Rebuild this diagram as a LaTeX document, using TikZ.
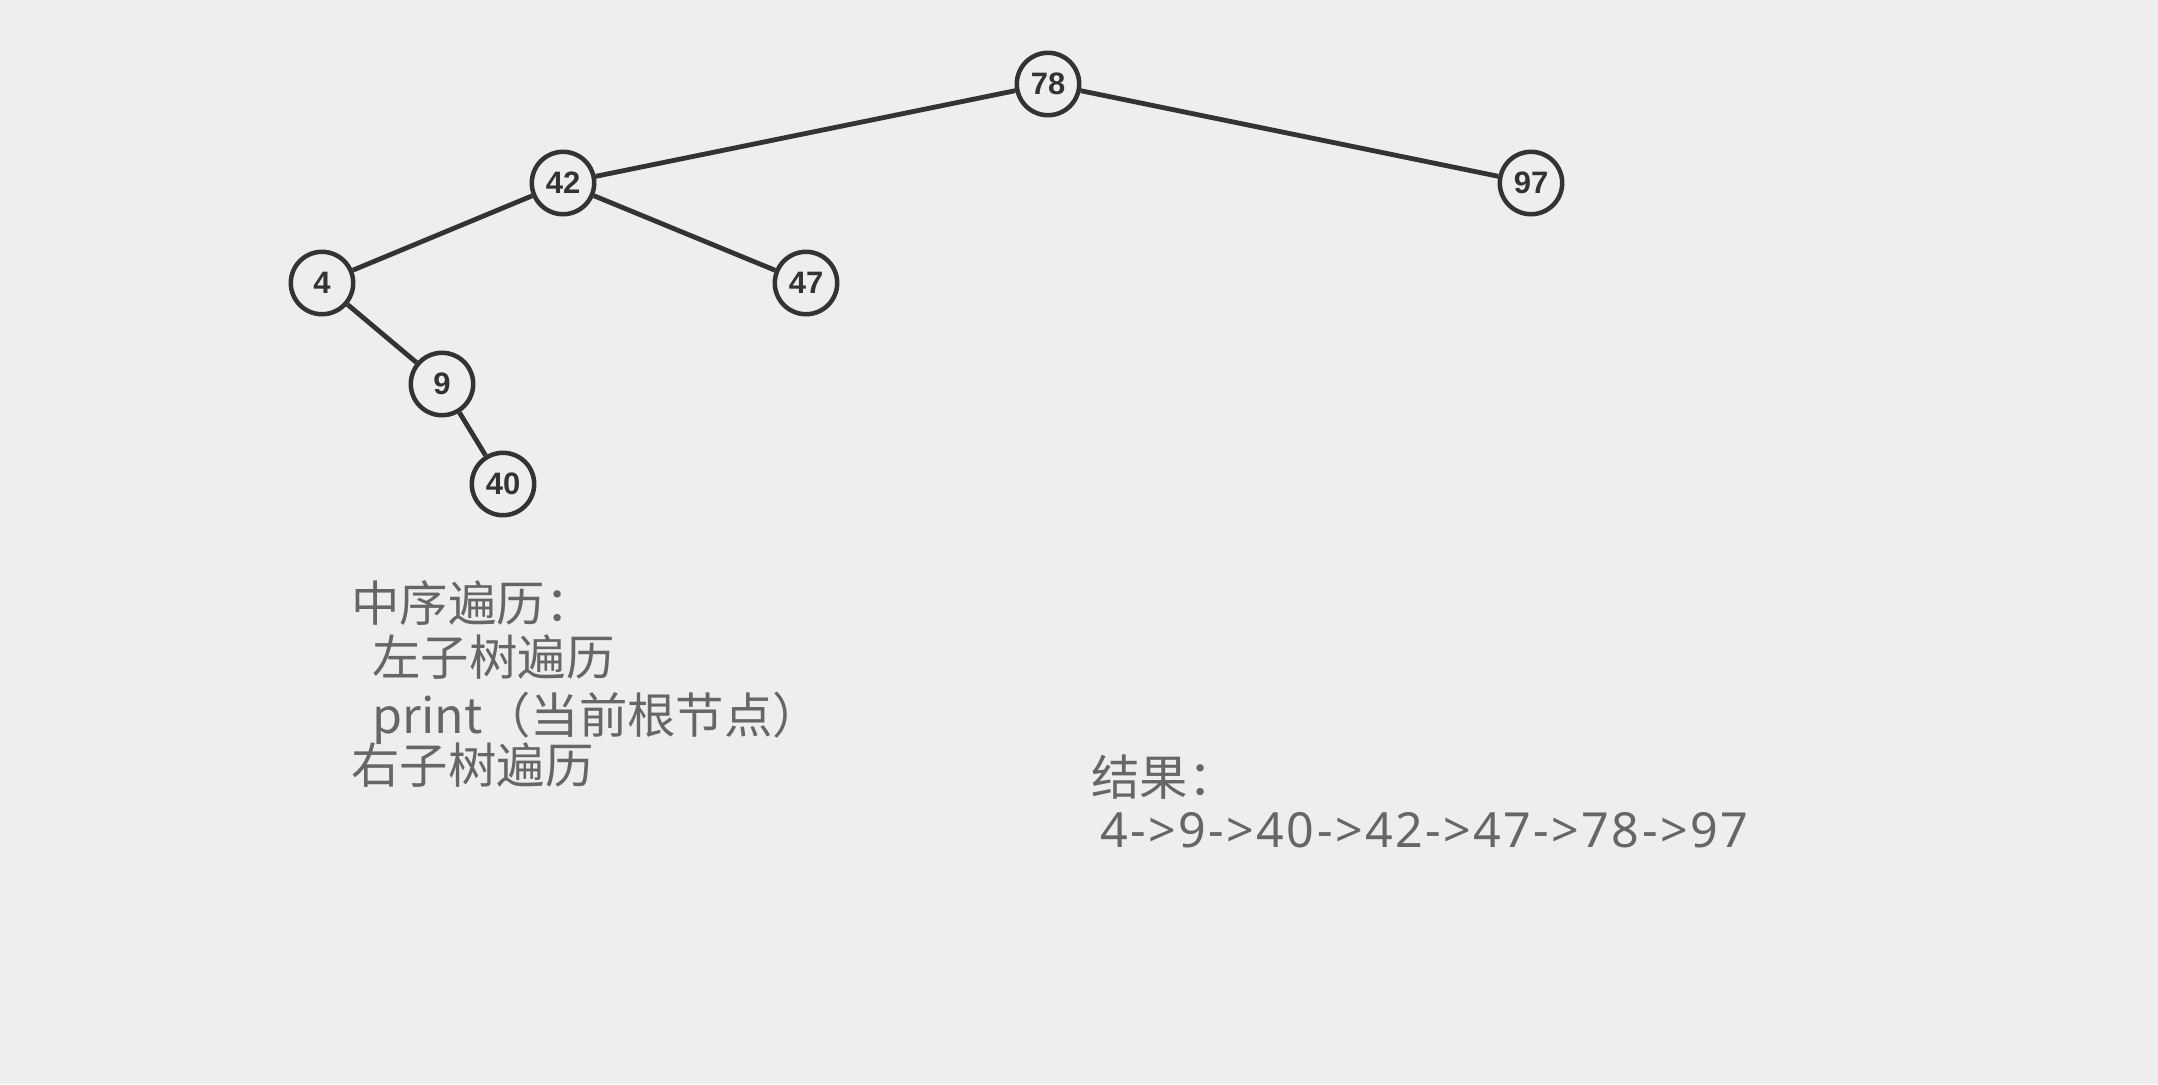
\documentclass[tikz,border=0pt]{standalone}
\usepackage{fontspec}
\setmainfont{Noto Sans CJK SC}
\newfontfamily\keyfont{Liberation Sans}
\newfontfamily\seqfont[LetterSpace=5]{Noto Sans}
\usetikzlibrary{positioning}
\definecolor{bgcol}{HTML}{EEEEEE}
\definecolor{inkcol}{HTML}{333333}
\definecolor{notecol}{HTML}{666666}
\tikzset{
  treenode/.style = {circle, draw=inkcol, line width=2.25pt, fill=bgcol, minimum size=31.2pt, inner sep=0pt, text=inkcol, font=\keyfont\bfseries\fontsize{15.5}{15.5}\selectfont},
  treeedge/.style = {inkcol, line width=2.4pt},
  note/.style = {anchor=base west, inner sep=0pt, text=notecol, font=\fontsize{24.2}{27}\selectfont},
}

\begin{document}
\begin{tikzpicture}[x=0.5pt,y=-0.5pt]
      \fill[bgcol] (0,0) rectangle (2158,1084);
      \useasboundingbox (0,0) rectangle (2158,1084);

      % the tree
      \node[treenode] (n78) at (1048,84) {78};
      \node[treenode] (n42) at (563,183) {42};
      \node[treenode] (n97) at (1531,183) {97};
      \node[treenode] (n4) at (322,283) {4};
      \node[treenode] (n47) at (806,283) {47};
      \node[treenode] (n9) at (442,384) {9};
      \node[treenode] (n40) at (503,484) {40};

      \path (n78) edge[treeedge] (n42);
      \path (n78) edge[treeedge] (n97);
      \path (n42) edge[treeedge] (n4);
      \path (n42) edge[treeedge] (n47);
      \path (n4) edge[treeedge] (n9);
      \path (n9) edge[treeedge] (n40);

      % the notes
      \node[note] (inorder) at (351,621) {中序遍历：};
      \node[note] (leftpart) at (372,675) {左子树遍历};
      \node[note] (rootpart) at (372,733) {print（当前根节点）};
      \node[note] (rightpart) at (351,783) {右子树遍历};

      \node[note] (result) at (1091,795) {结果：};
      \node[note] (order) at (1100,847) {\seqfont 4->9->40->42->47->78->97};
\end{tikzpicture}
\end{document}
